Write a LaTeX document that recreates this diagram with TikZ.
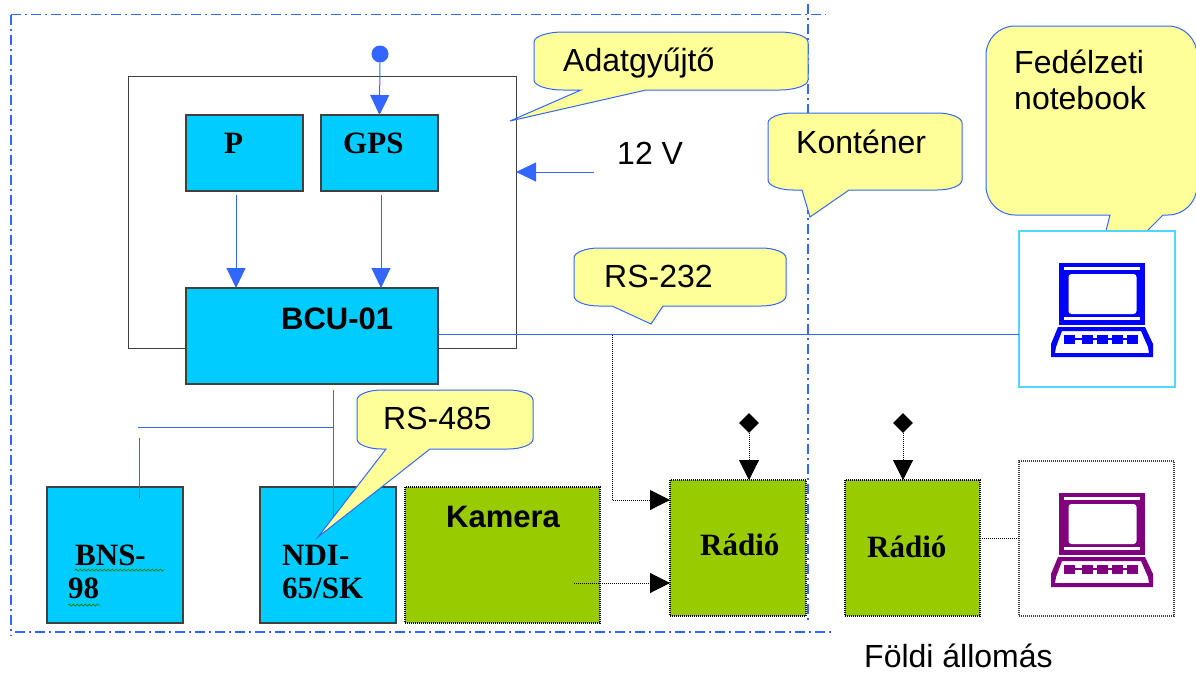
\documentclass[tikz,border=0pt]{standalone}
\usepackage{fontspec}
\setmainfont{Liberation Serif}
\setsansfont{Liberation Sans}
\usetikzlibrary{arrows.meta,calc,shapes.geometric,decorations.pathmorphing}

\definecolor{linkblue}{HTML}{3366FF}
\definecolor{boxblue}{HTML}{00CCFF}
\definecolor{boxgreen}{HTML}{99CC00}
\definecolor{noteyellow}{HTML}{FFFF99}
\definecolor{framecyan}{HTML}{4FD7FF}
\definecolor{groundpurple}{HTML}{800080}

\tikzset{
    unit/.style={draw=#1,line width=1.2pt,inner sep=0,outer sep=0},
    bluebox/.style={unit=black!75,fill=boxblue},
    greenbox/.style={unit=black,dash pattern=on 1pt off 1pt,fill=boxgreen},
    frameline/.style={draw=linkblue,line width=1.2pt,dash pattern=on 10pt off 4pt on 2pt off 4pt},
    bluelink/.style={draw=linkblue,line width=1pt},
    bluearrow/.style={bluelink,-{Triangle[length=20pt,width=19pt]}},
    dotlink/.style={draw=black,line width=1pt,dash pattern=on 1pt off 1pt},
    dotarrow/.style={dotlink,-{Triangle[length=20pt,width=20pt,fill=black]}},
    notefill/.style={draw=linkblue,fill=noteyellow,line width=1pt},
    sanstext/.style={font=\fontsize{32}{36}\selectfont\sffamily,anchor=base west,inner sep=0},
    sansbold/.style={font=\fontsize{31}{36}\selectfont\sffamily\bfseries,anchor=base west,inner sep=0},
    serifbold/.style={font=\fontsize{31}{33}\selectfont\bfseries,anchor=base west,inner sep=0},
    squiggle/.style={draw=green!50!black,line width=0.7pt,decorate,decoration={snake,segment length=4pt,amplitude=1pt}}
}

% x1, y1, x2, y2, corner rx, corner ry, tail (right to left)
\newcommand{\bubble}[7]{
    \draw[notefill] (#1+#5,#2) -- (#3-#5,#2)
        .. controls (#3-0.45*#5,#2) and (#3,#2+0.45*#6) .. (#3,#2+#6)
        -- (#3,#4-#6)
        .. controls (#3,#4-0.45*#6) and (#3-0.45*#5,#4) .. (#3-#5,#4) #7
        -- (#1+#5,#4)
        .. controls (#1+0.45*#5,#4) and (#1,#4-0.45*#6) .. (#1,#4-#6)
        -- (#1,#2+#6)
        .. controls (#1,#2+0.45*#6) and (#1+0.45*#5,#2) .. cycle;
}

% left, top, colour
\newcommand{\laptop}[3]{
    \begin{scope}[shift={(#1,#2)}]
        \fill[#3] (8,0) rectangle (94,62);
        \fill[white] (13,4) rectangle (89,7);
        \fill[white,rounded corners=3pt] (17.5,11) rectangle (85.5,51);
        \fill[white] (13,54) rectangle (89,57);
        \fill[#3,even odd rule] (7,64) -- (94,64) -- (102,81) -- (102,94) -- (0,94) -- (0,81) -- cycle
            (11,68) -- (90,68) -- (97,84) -- (98,90) -- (4,90) -- (5,84) -- cycle;
        \fill[#3] (13,75) rectangle (87,77);
        \foreach \keyx in {13,31,46,61,76}
            \fill[#3] (\keyx,71.5) rectangle ++(10.5,9);
    \end{scope}
}

\begin{document}
\begin{tikzpicture}[x=1pt,y=-1pt]
    \useasboundingbox (0,0) rectangle (1196,673);

    % container frame
    \draw[frameline] (11,14.5) -- (826,14.5);
    \draw[frameline] (11,14.5) -- (11,635);
    \draw[frameline] (15,632) -- (833,632);
    \draw[frameline] (808,4) -- (808,622);

    % data logger
    \node[unit=black!75,line width=1pt,minimum width=388pt,minimum height=272pt] (logger) at (322,212) {};
    \node[bluebox,minimum width=117pt,minimum height=76pt] (p) at (244.5,153) {};
    \node[bluebox,minimum width=117pt,minimum height=76pt] (gps) at (379.5,153) {};
    \node[bluebox,minimum width=252pt,minimum height=96pt] (bcu) at (312,336) {};
    \node[serifbold] (ptext) at (224,153) {P};
    \node[serifbold] (gpstext) at (343,153) {GPS};
    \node[sansbold] (bcutext) at (281,329) {BCU-01};
    \node[circle,fill=linkblue,inner sep=0,minimum size=17pt] (dot) at (380,54) {};

    % sensors and radios
    \node[bluebox,minimum width=136pt,minimum height=136pt] (bns) at (115,555) {};
    \node[bluebox,minimum width=136pt,minimum height=136pt] (ndi) at (328,555) {};
    \node[greenbox,minimum width=195pt,minimum height=136pt] (kamera) at (502.5,555) {};
    \node[greenbox,minimum width=136pt,minimum height=136pt] (radioa) at (738,548) {};
    \node[greenbox,minimum width=135pt,minimum height=136pt] (radiob) at (912.5,548) {};
    \node[diamond,fill=black,inner sep=0,minimum size=20pt] (anta) at (749,423) {};
    \node[diamond,fill=black,inner sep=0,minimum size=20pt] (antb) at (903,423) {};
    \node[serifbold,align=left] (bnstext) at (68,598) {\hspace*{7pt}BNS-\\98};
    \node[serifbold,align=left] (nditext) at (282,598) {NDI-\\65/SK};
    \node[sansbold] (kameratext) at (446,527) {Kamera};
    \node[serifbold] (radioatext) at (700,555) {Rádió};
    \node[serifbold] (radiobtext) at (867,557) {Rádió};
    \draw[squiggle] (75,570) -- (164,570);
    \draw[squiggle] (68,605) -- (100,605);

    % free line ends
    \coordinate (pout) at (236,195);
    \coordinate (gpsout) at (381,195);
    \coordinate (supply) at (594,172);
    \coordinate (rsjoin) at (612,334.5);
    \coordinate (busout) at (333,390);
    \coordinate (busjoin) at (333,427);
    \coordinate (busin) at (333,520);
    \coordinate (bnsleft) at (138,427);
    \coordinate (bnsdrop) at (139,438);
    \coordinate (bnsin) at (139,498);
    \coordinate (camout) at (574,583);

    \bubble{986}{26}{1197}{215}{29}{29}{-- (1163,215) -- (1092,286) -- (1110,215)}

    % notebooks
    \node[unit=framecyan,fill=white,minimum width=156pt,minimum height=156pt] (notebook) at (1097,309) {};
    \node[unit=black!75,dash pattern=on 1pt off 1pt,minimum width=155pt,minimum height=155pt] (ground) at (1096.5,538.5) {};
    \laptop{1051}{263}{blue}
    \laptop{1051}{493}{groundpurple}

    % connectors
    \draw[bluearrow] (dot) -- (gps.north);
    \draw[bluearrow] (pout) -- (pout |- bcu.north);
    \draw[bluearrow] (gpsout) -- (gpsout |- bcu.north);
    \draw[bluearrow] (supply) -- (supply -| logger.east);
    \draw[bluelink] (bcu.east |- rsjoin) -- (rsjoin -| notebook.west);
    \draw[bluelink] (busout) -- (busin);
    \draw[bluelink] (busjoin) -- (bnsleft);
    \draw[bluelink] (bnsdrop) -- (bnsin);
    \draw[dotarrow] (rsjoin) |- ([yshift=48pt]radioa.west);
    \draw[dotarrow] (camout) -- (camout -| radioa.west);
    \draw[dotarrow] (anta) -- (anta |- radioa.north);
    \draw[dotarrow] (antb) -- (antb |- radiob.north);
    \draw[dotlink] (ground.west -| radiob.east) -- (ground.west);

    % callouts
    \bubble{534}{32}{808}{90}{29}{10}{-- (646,90) -- (510,121) -- (581,90)}
    \bubble{768}{113}{962}{190}{25}{10}{-- (849,190) -- (810,217) -- (802,190)}
    \bubble{574}{248}{786}{306}{25}{10}{-- (663,306) -- (651,324) -- (612,306)}
    \bubble{357}{390}{533}{449}{25}{10}{-- (430,449) -- (318,537) -- (386,449)}

    \node[sanstext] (adattext) at (563,71) {Adatgyűjtő};
    \node[sanstext] (kontext) at (796,153) {Konténer};
    \node[sanstext] (volttext) at (617,164) {12 V};
    \node[sanstext] (rsatext) at (604,287) {RS-232};
    \node[sanstext] (rsbtext) at (383,429) {RS-485};
    \node[sanstext,align=left] (notetext) at (1014,109) {Fedélzeti\\notebook};
    \node[sanstext] (foldtext) at (864,667) {Földi állomás};
\end{tikzpicture}
\end{document}
